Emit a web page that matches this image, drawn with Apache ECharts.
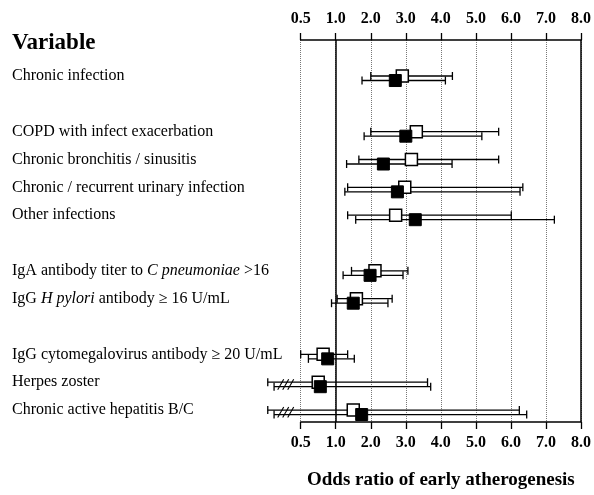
<!DOCTYPE html>
<html><head><meta charset="utf-8">
<script src="https://cdn.jsdelivr.net/npm/echarts@6/dist/echarts.min.js"></script>
<style>html,body{margin:0;padding:0;background:#fff}#c{width:594px;height:495px}</style>
</head><body><div id="c"></div>
<script>
// ---- data ----
var rowLabels = [
  'Chronic infection',
  'COPD with infect exacerbation',
  'Chronic bronchitis / sinusitis',
  'Chronic / recurrent urinary infection',
  'Other infections',
  'IgA antibody titer to {i|C pneumoniae} >16',
  'IgG {i|H pylori} antibody \u2265 16 U/mL',
  'IgG cytomegalovirus antibody \u2265 20 U/mL',
  'Herpes zoster',
  'Chronic active hepatitis B/C'
];
var rowSlots = [0, 2, 3, 4, 5, 7, 8, 10, 11, 12];
// open squares: odds ratio and 95% CI
var openOR  = [2.90, 3.30, 3.16, 2.97, 2.71, 2.12, 1.59, 0.82, 0.75, 1.50];
var openLo  = [2.00, 2.00, 1.66, 1.34, 1.34, 1.45, 1.04, 0.50, 0.03, 0.03];
var openHi  = [4.33, 5.65, 5.65, 6.34, 6.01, 3.06, 2.61, 1.34, 3.62, 6.24];
// filled squares
var fillOR  = [2.70, 3.00, 2.36, 2.76, 3.27, 1.98, 1.50, 0.885, 0.78, 1.74];
var fillLo  = [1.75, 1.81, 1.31, 1.26, 1.57, 1.21, 0.94, 0.61, 0.12, 0.12];
var fillHi  = [4.13, 5.17, 4.32, 6.26, 7.24, 2.92, 2.49, 1.53, 3.71, 6.45];
var tickLabels = ['0.5', '1.0', '2.0', '3.0', '4.0', '5.0', '6.0', '7.0', '8.0'];
var refLines = [1.0, 8.0];
var xTitle = 'Odds ratio of early atherogenesis';
var colTitle = 'Variable';

// broken scale: 0.5 -> 0, 1 -> 1, then linear
function tr(v) { return v >= 1 ? v : 2 * v - 1; }

var SERIF = "'Liberation Serif', 'Times New Roman', serif";

var data = rowSlots.map(function (s, i) {
  return [s, tr(openOR[i]), tr(openLo[i]), tr(openHi[i]), tr(fillOR[i]), tr(fillLo[i]), tr(fillHi[i]), i];
});

function renderItem(params, api) {
  var slot = api.value(0);
  var y = api.coord([0, slot])[1];
  var yo = y, yf = y + 4.5;
  function X(t) { return api.coord([t, slot])[0]; }
  var lw = 1.3, cap = 4, half = 6;
  var ls = { stroke: '#000', lineWidth: lw, fill: null };
  var ch = [];
  function ci(lo, hi, yy) {
    var x1 = X(lo), x2 = X(hi);
    ch.push({ type: 'line', shape: { x1: x1, y1: yy, x2: x2, y2: yy }, style: ls });
    ch.push({ type: 'line', shape: { x1: x1, y1: yy - cap, x2: x1, y2: yy + cap }, style: ls });
    ch.push({ type: 'line', shape: { x1: x2, y1: yy - cap, x2: x2, y2: yy + cap }, style: ls });
  }
  ci(api.value(2), api.value(3), yo);
  ci(api.value(5), api.value(6), yf);
  // scale-break hatch when CI runs below 0.5
  if (api.value(2) < 0 || api.value(5) < 0) {
    var x0 = X(0);
    [-20, -15, -10].forEach(function (d) {
      ch.push({ type: 'line', shape: { x1: x0 + d - 3, y1: yf + 3, x2: x0 + d + 3, y2: yo - 3 }, style: { stroke: '#000', lineWidth: 1.1 } });
    });
  }
  var xo = X(api.value(1)), xf = X(api.value(4));
  ch.push({ type: 'rect', shape: { x: xo - half, y: yo - half, width: 2 * half, height: 2 * half }, style: { fill: '#fff', stroke: '#000', lineWidth: 1.5 } });
  ch.push({ type: 'rect', shape: { x: xf - half, y: yf - half, width: 2 * half, height: 2 * half }, style: { fill: '#000', stroke: '#000', lineWidth: 1 } });
  // row label
  var idx = api.value(7);
  ch.push({ type: 'text', x: 12, y: y, style: {
    text: rowLabels[idx], fill: '#000', font: '16px ' + SERIF, verticalAlign: 'middle', align: 'left',
    rich: { i: { fontStyle: 'italic', fontSize: 16, fontFamily: SERIF, fill: '#000' } }
  } });
  return { type: 'group', children: ch };
}

var axisCommon = {
  type: 'value', min: 0, max: 8, interval: 1,
  axisLine: { show: true, onZero: false, lineStyle: { color: '#000', width: 1.5 } },
  axisTick: { show: true, length: 7, lineStyle: { color: '#000', width: 1.3 } },
  axisLabel: { show: true, margin: 13, color: '#000', fontFamily: SERIF, fontWeight: 'bold', fontSize: 16,
    formatter: function (v) { return tickLabels[Math.round(v)]; } }
};

var option = {
  animation: false,
  backgroundColor: '#fff',
  grid: { left: 300.7, right: 12.3, top: 40, bottom: 68 },
  xAxis: [
    Object.assign({}, axisCommon, { position: 'bottom',
      splitLine: { show: true, lineStyle: { type: 'dotted', color: '#777', width: 1 } },
      name: xTitle, nameLocation: 'middle', nameGap: 49,
      nameTextStyle: { color: '#000', fontFamily: SERIF, fontWeight: 'bold', fontSize: 19 } }),
    Object.assign({}, axisCommon, { position: 'top', splitLine: { show: false } })
  ],
  yAxis: { type: 'value', inverse: true, min: -1.294, max: 12.43, show: false },
  graphic: [{ type: 'text', left: 12, top: 32, style: { text: colTitle, font: 'bold 23px ' + SERIF, fill: '#000' } }],
  series: [{
    type: 'custom', xAxisIndex: 0, yAxisIndex: 0, clip: false,
    renderItem: renderItem,
    encode: { x: [1, 2, 3, 4, 5, 6], y: 0 },
    data: data,
    markLine: { silent: true, symbol: 'none', label: { show: false },
      lineStyle: { color: '#000', type: 'solid', width: 1.5 },
      data: refLines.map(function (v) { return { xAxis: tr(v) }; }) }
  }]
};
echarts.init(document.getElementById('c')).setOption(option);
</script></body></html>
